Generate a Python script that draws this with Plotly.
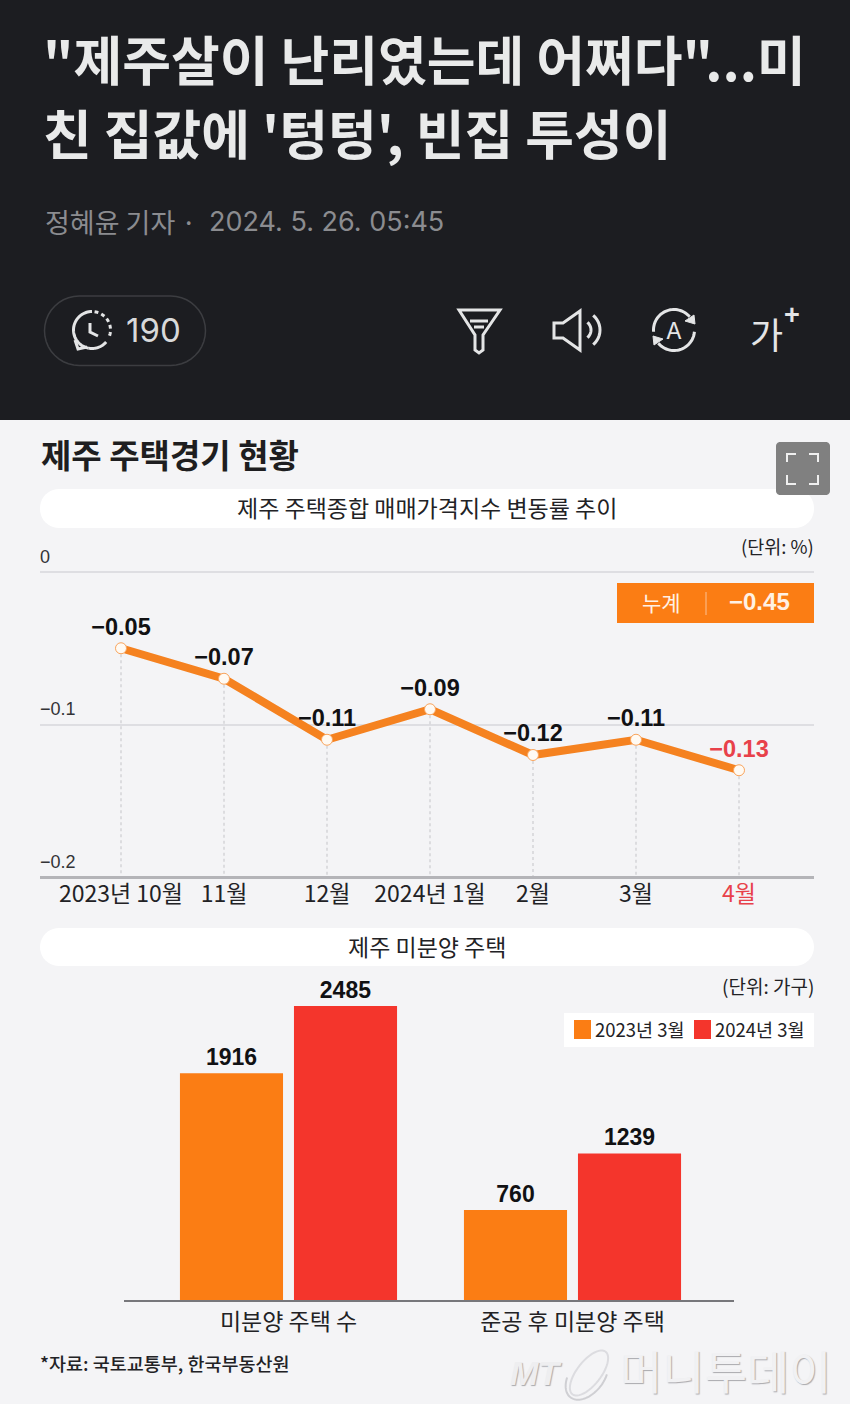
import math
import plotly.graph_objects as go

W, H = 850, 1404
KR = "Noto Sans CJK KR"
NUM = "Liberation Sans"

# ---- data ----
line_months = ["2023년 10월", "11월", "12월", "2024년 1월", "2월", "3월", "4월"]
line_values = [-0.05, -0.07, -0.11, -0.09, -0.12, -0.11, -0.13]
line_labels = ["−0.05", "−0.07", "−0.11", "−0.09", "−0.12", "−0.11", "−0.13"]
y_ticks = [0, -0.1, -0.2]
y_tick_labels = ["0", "−0.1", "−0.2"]
bar_categories = ["미분양 주택 수", "준공 후 미분양 주택"]
bars_2023 = [1916, 760]
bars_2024 = [2485, 1239]
series_names = ["2023년 3월", "2024년 3월"]
cumulative = "−0.45"

ORANGE = "#f58220"
BAR_ORANGE = "#fb7d14"
BAR_RED = "#f4352c"
RED_TXT = "#e8414a"
DARK = "#1c1d21"
BG = "#f4f4f6"
INK = "#222225"


def X(p):
    return p / W


def Y(p):
    return 1 - p / H


def path(points, close=False):
    s = "M" + " L".join(f"{X(a):.5f},{Y(b):.5f}" for a, b in points)
    return s + (" Z" if close else "")


def arc(cx, cy, r, a0, a1, n=36):
    return [(cx + r * math.cos(math.radians(a0 + (a1 - a0) * i / n)),
             cy + r * math.sin(math.radians(a0 + (a1 - a0) * i / n))) for i in range(n + 1)]


def ellipse(cx, cy, a, b, rot, t0=0, t1=360, n=48):
    c, s = math.cos(math.radians(rot)), math.sin(math.radians(rot))
    pts = []
    for i in range(n + 1):
        t = math.radians(t0 + (t1 - t0) * i / n)
        u, v = a * math.cos(t), b * math.sin(t)
        pts.append((cx + u * c - v * s, cy + u * s + v * c))
    return pts


def rrect(x0, y0, x1, y1, r):
    pts = arc(x1 - r, y0 + r, r, -90, 0, 10) + arc(x1 - r, y1 - r, r, 0, 90, 10) + \
        arc(x0 + r, y1 - r, r, 90, 180, 10) + arc(x0 + r, y0 + r, r, 180, 270, 10)
    return path(pts, True)


shapes = []
annos = []


def rect(x0, y0, x1, y1, fill):
    shapes.append(dict(type="rect", xref="paper", yref="paper", x0=X(x0), x1=X(x1), y0=Y(y0), y1=Y(y1),
                       fillcolor=fill, line_width=0, layer="below"))


def pshape(d, fill="rgba(0,0,0,0)", color="rgba(0,0,0,0)", width=0, layer="below"):
    shapes.append(dict(type="path", xref="paper", yref="paper", path=d, fillcolor=fill,
                       line=dict(color=color, width=width), layer=layer))


def text(x, y, s, size, color=INK, anchor="left", font=KR, weight=None, shadow=None, style=None):
    f = dict(size=size, color=color, family=font)
    if weight:
        f["weight"] = weight
    if shadow:
        f["shadow"] = shadow
    if style:
        f["style"] = style
    annos.append(dict(x=X(x), y=Y(y), xref="paper", yref="paper", text=s, showarrow=False,
                      xanchor=anchor, yanchor="middle", font=f, borderpad=0))


# ---- page header ----
rect(0, 0, 850, 420, DARK)
text(42, 58, "\"제주살이 난리였는데 어쩌다\"...미", 53, "#e9eaea", weight=700)
text(42, 132, "친 집값에 '텅텅', 빈집 투성이", 53, "#e9eaea", weight=700)
text(44, 221, "정혜윤 기자 ·", 27, "#8b8c90")
text(208, 221, "2024. 5. 26. 05:45", 27, "#8b8c90", font="Inter")
pshape(rrect(44.5, 296, 205.5, 365.5, 34.7), color="#3c3d41", width=1.5)
text(153, 330, "190", 33, "#d8d9da", anchor="center", font="Inter")

ICON = "#e4e5e6"
IW = 3
pshape(path(arc(92, 330, 18.5, 100, 270)), color=ICON, width=IW)
pshape(path(arc(92, 330, 18.5, 40, 100)), color=ICON, width=IW)
for a in (278, 300, 322, 344, 6):
    pshape(path(arc(92, 330, 18.5, a, a + 12, 3)), color=ICON, width=IW)
pshape(path([(75, 340), (78, 349), (87, 347)]), color=ICON, width=IW)
pshape(path([(90, 323), (90, 332), (98, 336)]), color=ICON, width=IW)

pshape(path([(459, 310), (500, 310), (483, 335), (483, 350), (479, 353), (475, 350), (475, 335)], True),
       color=ICON, width=IW)
pshape(path([(470, 321), (488, 321)]), color=ICON, width=IW)
pshape(path([(474, 327), (484, 327)]), color=ICON, width=IW)

pshape(path([(580, 311), (563, 323), (554, 323), (554, 338), (563, 338), (580, 350)], True),
       color=ICON, width=IW)
pshape(path(arc(581, 330, 10, -50, 50, 12)), color=ICON, width=IW)
pshape(path(arc(581, 330, 19, -50, 50, 12)), color=ICON, width=IW)

pshape(path(arc(674, 330, 20.5, 175, 320)), color=ICON, width=IW)
pshape(path(arc(674, 330, 20.5, 5, 140)), color=ICON, width=IW)
pshape(path([(694, 315), (695, 324), (685, 321)], True), fill=ICON, color=ICON, width=1)
pshape(path([(654, 345), (653, 336), (663, 339)], True), fill=ICON, color=ICON, width=1)
text(674, 331, "A", 23, ICON, anchor="center", font="Inter")
text(766, 333, "가", 36, ICON, anchor="center")
text(792, 315, "+", 27, ICON, anchor="center", font=NUM, weight=700)

# ---- infographic furniture ----
text(40, 454, "제주 주택경기 현황", 33, "#1e1e20", weight=700)
pshape(rrect(776, 442, 830, 495, 4), fill="#808080", layer="above")
for pts in ([(787, 462), (787, 454), (796, 454)], [(809, 454), (818, 454), (818, 462)],
            [(787, 475), (787, 484), (796, 484)], [(809, 484), (818, 484), (818, 475)]):
    pshape(path(pts), color="#efefef", width=2, layer="above")
pshape(rrect(40, 489, 814, 528, 19), fill="#ffffff")
text(427, 507, "제주 주택종합 매매가격지수 변동률 추이", 23, INK, anchor="center")
text(815, 546, "(단위: %)", 18.5, INK, anchor="right")

rect(617, 583, 814, 623, BAR_ORANGE)
pshape(path([(706, 592), (706, 615)]), color="#fbab6a", width=1.5)
text(661, 602, "누계", 21, "#fff1e4", anchor="center")
text(759, 602, cumulative, 24, "#fff1e4", anchor="center", font=NUM, weight=700)

pshape(rrect(40, 928, 814, 966, 19), fill="#ffffff")
text(427, 946, "제주 미분양 주택", 23, INK, anchor="center")
text(815, 985, "(단위: 가구)", 19, INK, anchor="right")

rect(564, 1013, 814, 1047, "#ffffff")
rect(574, 1020, 591, 1039, BAR_ORANGE)
rect(694, 1020, 711, 1039, BAR_RED)
text(594, 1029, series_names[0], 18.5, INK)
text(714, 1029, series_names[1], 18.5, INK)

text(39, 1363, "*자료: 국토교통부, 한국부동산원", 18.5, INK, weight=500)

# watermark
WM = "1px 1px 1px #a9a9ad"
text(509, 1373, "MT", 34, "#eeeef0", font=NUM, weight=700, style="italic", shadow=WM)
text(619, 1369, "머니투데이", 46, "#f1f1f3", shadow=WM)
pshape(path(ellipse(589, 1373, 27, 12, -52), True), color="#dcdce0", width=2)
pshape(path(ellipse(587, 1376, 27, 17, -52, 60, 240)), color="#cfcfd3", width=2)

# ---- charts ----
fig = go.Figure()

xs = list(range(len(line_months)))
drop_x, drop_y = [], []
for i, v in zip(xs, line_values):
    drop_x += [i, i, None]
    drop_y += [v, y_ticks[-1], None]

fig.add_trace(go.Scatter(x=drop_x, y=drop_y, mode="lines", hoverinfo="skip", xaxis="x", yaxis="y",
                         line=dict(color="#c4c4c8", width=1, dash="3px,3px"), showlegend=False))
fig.add_trace(go.Scatter(
    x=xs, y=line_values, mode="lines+markers+text", xaxis="x", yaxis="y", showlegend=False,
    text=line_labels, textposition="top center", cliponaxis=False,
    textfont=dict(family=NUM, size=23.5, weight=700,
                  color=["#111113"] * 6 + [RED_TXT]),
    line=dict(color=ORANGE, width=8),
    marker=dict(size=11, color="#fffaf3", line=dict(color="#f9a45c", width=1)),
))

fig.add_trace(go.Bar(x=bar_categories, y=bars_2023, name=series_names[0], xaxis="x2", yaxis="y2",
                     marker=dict(color=BAR_ORANGE, line_width=0), text=[str(v) for v in bars_2023],
                     textposition="outside", cliponaxis=False, showlegend=False,
                     textfont=dict(family=NUM, size=23, weight=700, color="#111113")))
fig.add_trace(go.Bar(x=bar_categories, y=bars_2024, name=series_names[1], xaxis="x2", yaxis="y2",
                     marker=dict(color=BAR_RED, line_width=0), text=[str(v) for v in bars_2024],
                     textposition="outside", cliponaxis=False, showlegend=False,
                     textfont=dict(family=NUM, size=23, weight=700, color="#111113")))

tick_text = [m for m in line_months[:-1]] + [f'<span style="color:{RED_TXT}">{line_months[-1]}</span>']

PX_PER_UNIT = 1525  # 0.2 units span 305 px

fig.update_layout(
    width=W, height=H, margin=dict(l=0, r=0, t=0, b=0, pad=0, autoexpand=False),
    paper_bgcolor=BG, plot_bgcolor="rgba(0,0,0,0)",
    shapes=shapes, annotations=annos, showlegend=False,
    barmode="group", bargap=0.197, bargroupgap=0.096,
    font=dict(family=KR, color=INK),
    xaxis=dict(domain=[X(40), X(814)], range=[(40 - 121) / 103, (814 - 121) / 103],
               anchor="free", position=Y(877),
               tickmode="array", tickvals=xs, ticktext=tick_text, showgrid=False, zeroline=False,
               showline=True, linecolor="#b4b4b8", linewidth=3, ticks="", ticklabelstandoff=-5,
               tickfont=dict(family=KR, size=23, color=INK)),
    yaxis=dict(domain=[Y(877 + 0.03 * PX_PER_UNIT), Y(877 - 0.22 * PX_PER_UNIT)], range=[-0.23, 0.02], anchor="x",
               tickmode="array", tickvals=y_ticks, ticktext=y_tick_labels, ticklabelposition="inside top",
               ticklabelshift=-3, ticklabelstandoff=-3,
               showgrid=True, gridcolor="#dedee2", gridwidth=2, zeroline=False, ticks="", showline=False,
               tickfont=dict(family=NUM, size=18, color="#333336")),
    xaxis2=dict(domain=[X(124), X(734)], range=[(124 - 288.5) / 284, (734 - 288.5) / 284], anchor="y2",
                type="category", showgrid=False, zeroline=False, showline=True, linecolor="#77777b",
                linewidth=1.5, ticks="", ticklabelstandoff=1,
                tickfont=dict(family=KR, size=23, color=INK)),
    yaxis2=dict(domain=[Y(1300), Y(990)], range=[0, 310 / 294 * 2485], anchor="x2", visible=False),
)

fig.write_html("out.html", config={"displayModeBar": False},
               post_script="document.body.style.margin='0';document.documentElement.style.overflow='hidden';")
